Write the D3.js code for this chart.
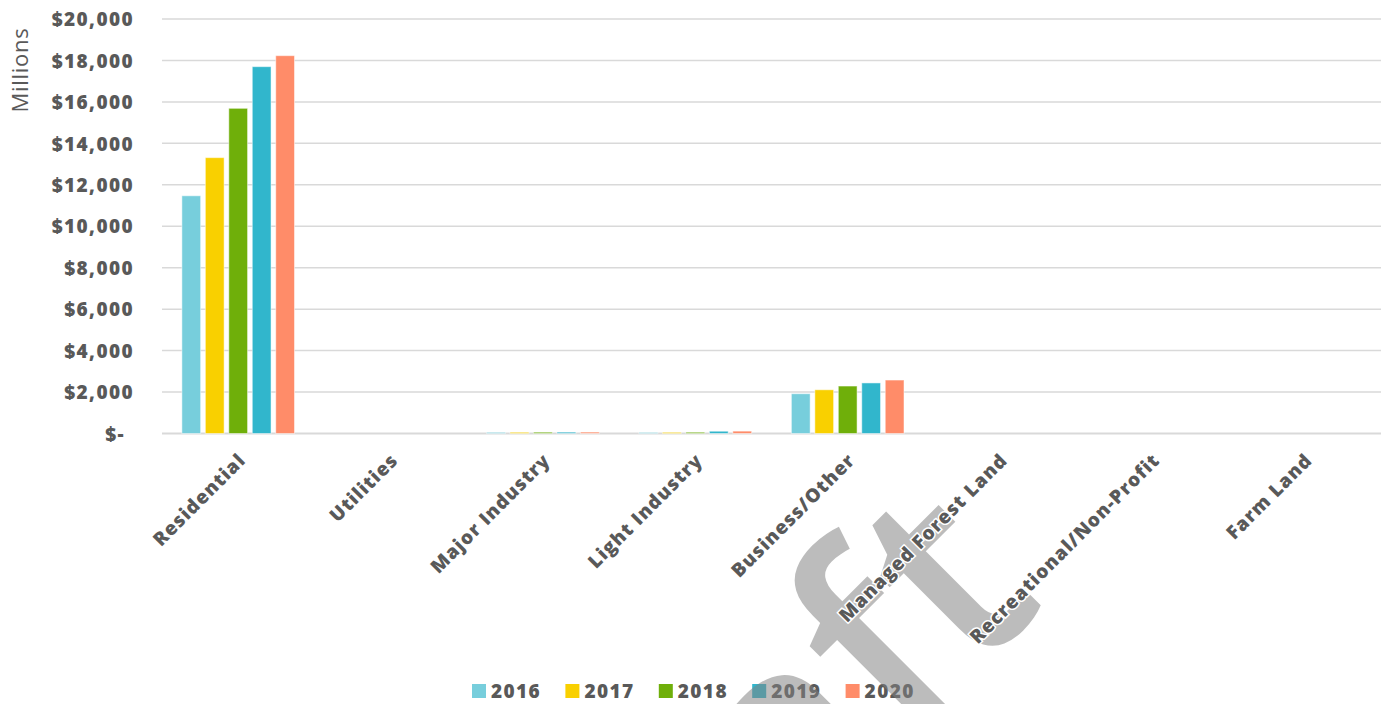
<!DOCTYPE html>
<html>
<head>
<meta charset="utf-8">
<script src="https://cdn.jsdelivr.net/npm/d3@7"></script>
<style>
  body { margin: 0; background: #fff; }
  svg text { font-family: "Open Sans", sans-serif; }
</style>
</head>
<body>
<svg width="1389" height="704"></svg>
<script>
// data (millions of dollars)
var categories = ["Residential", "Utilities", "Major Industry", "Light Industry",
  "Business/Other", "Managed Forest Land", "Recreational/Non-Profit", "Farm Land"];
var years = ["2016", "2017", "2018", "2019", "2020"];
var colors = ["#77cedc", "#f9d000", "#6faf0a", "#31b6cc", "#ff8c69"];

var v2016 = [11470, 0, 55, 50, 1920, 0, 0, 0];
var v2017 = [13310, 0, 58, 55, 2110, 0, 0, 0];
var v2018 = [15690, 0, 62, 60, 2290, 0, 0, 0];
var v2019 = [17700, 0, 65, 110, 2440, 0, 0, 0];
var v2020 = [18230, 0, 68, 115, 2580, 0, 0, 0];
var series = [v2016, v2017, v2018, v2019, v2020];

var yTicks = [0, 2000, 4000, 6000, 8000, 10000, 12000, 14000, 16000, 18000, 20000];

var svg = d3.select("svg"),
  width = +svg.attr("width"),
  height = +svg.attr("height");

var x0 = d3.scaleBand()
  .domain(categories)
  .range([162, 1381])
  .paddingInner(0.23)
  .paddingOuter(0.115);

var x1 = d3.scaleBand()
  .domain(years)
  .range([0, x0.bandwidth()])
  .paddingInner(0.2)
  .paddingOuter(0.1);

var y = d3.scaleLinear()
  .domain([0, 20000])
  .range([433.5, 19]);

var color = d3.scaleOrdinal().domain(years).range(colors);

// gridlines
svg.append("g")
  .selectAll("line")
  .data(yTicks)
  .enter().append("line")
    .attr("x1", 162)
    .attr("x2", 1381)
    .attr("y1", function(d) { return y(d); })
    .attr("y2", function(d) { return y(d); })
    .attr("stroke", "#d9d9d9")
    .attr("stroke-width", function(d) { return d === 0 ? 2 : 1.5; });

// y axis labels
var yAxis = svg.append("g")
  .attr("transform", "translate(134,0)")
  .call(d3.axisLeft(y)
    .tickValues(yTicks)
    .tickSize(0)
    .tickPadding(0)
    .tickFormat(function(d) { return d === 0 ? "$-" : "$" + d3.format(",")(d); }));
yAxis.select(".domain").remove();
yAxis.selectAll("text")
  .attr("fill", "#595959")
  .attr("font-size", 19)
  .attr("font-weight", 800)
  .attr("letter-spacing", "1.4px")
  .attr("dy", "0.35em")
  .attr("dx", function(d) { return d === 0 ? -9 : 0; })
  .style("font-family", "'Open Sans', sans-serif");

svg.append("text")
  .attr("transform", "translate(28,70) rotate(-90)")
  .attr("text-anchor", "middle")
  .attr("fill", "#595959")
  .attr("font-size", 22)
  .attr("letter-spacing", "0.7px")
  .text("Millions");

// bars
var groups = svg.append("g")
  .selectAll("g")
  .data(categories)
  .enter().append("g")
    .attr("transform", function(d) { return "translate(" + x0(d) + ",0)"; });

groups.selectAll("rect")
  .data(function(d, i) {
    return years.map(function(yr, j) { return { year: yr, value: series[j][i] }; });
  })
  .enter().append("rect")
    .filter(function(d) { return d.value > 0; })
    .attr("x", function(d) { return x1(d.year); })
    .attr("width", x1.bandwidth())
    .attr("y", function(d) { return y(d.value); })
    .attr("height", function(d) { return y(0) - y(d.value); })
    .attr("fill", function(d) { return color(d.year); })
    .attr("stroke", "#fff")
    .attr("stroke-opacity", 0.5)
    .attr("stroke-width", 1);

// legend
var legend = svg.append("g")
  .attr("transform", "translate(472,684)");

var item = legend.selectAll("g")
  .data(years)
  .enter().append("g")
    .attr("transform", function(d, i) { return "translate(" + (i * 93.4) + ",0)"; });

item.append("rect")
  .attr("width", 14)
  .attr("height", 14)
  .attr("fill", function(d) { return color(d); });

item.append("text")
  .attr("x", 19)
  .attr("y", 14)
  .attr("fill", "#595959")
  .attr("font-size", 19)
  .attr("font-weight", 800)
  .attr("letter-spacing", "1.4px")
  .text(function(d) { return d; });

// watermark
svg.append("text")
  .attr("transform", "translate(1048,602) rotate(-45)")
  .attr("text-anchor", "end")
  .attr("fill", "#808080")
  .attr("fill-opacity", 0.53)
  .attr("font-size", 270)
  .attr("font-weight", 600)
  .text("Draft");

// category labels on top, with white halo
svg.append("g")
  .selectAll("text")
  .data(categories)
  .enter().append("text")
    .attr("transform", function(d) {
      return "translate(" + (x0(d) + x0.bandwidth() / 2 - 1) + ",452) rotate(-45)";
    })
    .attr("text-anchor", "end")
    .attr("dy", "0.71em")
    .attr("fill", "#595959")
    .attr("font-size", 19)
    .attr("font-weight", 800)
    .attr("letter-spacing", "1px")
    .attr("stroke", "#fff")
    .attr("stroke-width", 3)
    .attr("paint-order", "stroke")
    .text(function(d) { return d; });
</script>
</body>
</html>
